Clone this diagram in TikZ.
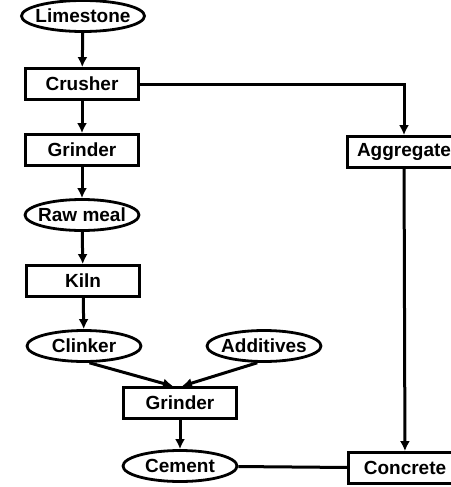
\documentclass[tikz,border=0pt]{standalone}
\usepackage{fontspec}
\setmainfont{Liberation Sans}
\usepackage{tikz}
\usetikzlibrary{arrows.meta, positioning, shapes.geometric, calc}

\tikzset{
    stagebox/.style={draw, line width=2.8pt, minimum width=113pt, minimum height=31pt, inner sep=2pt, font=\fontsize{19}{21}\selectfont\bfseries},
    matter/.style={draw, ellipse, line width=2.8pt, minimum width=114pt, minimum height=31pt, inner xsep=-4pt, inner ysep=1pt, font=\fontsize{19}{21}\selectfont\bfseries},
    flow/.style={-{Latex[length=10pt, width=10pt]}, line width=3pt},
    link/.style={line width=3pt}
}

\begin{document}
\begin{tikzpicture}[x=1pt, y=-1pt]
        \useasboundingbox (0,0) rectangle (450,487);

        % Cement line
        \node[matter] (lime) at (83,16) {Limestone};
        \node[stagebox] (crush) at (82,84) {Crusher};
        \node[stagebox] (grind) at (82,150) {Grinder};
        \node[matter] (raw) at (82,215) {Raw meal};
        \node[stagebox] (kiln) at (83,281) {Kiln};
        \node[matter] (clink) at (84,346) {Clinker};
        \node[matter] (addit) at (264,346) {Additives};
        \node[stagebox] (grindb) at (180,403) {Grinder};
        \node[matter] (cem) at (180,466) {Cement};

        % Aggregate side
        \node[stagebox] (aggr) at (404,152) {Aggregate};
        \node[stagebox] (concr) at (405,468) {Concrete};

        \draw[flow] (lime) -- (crush);
        \draw[flow] (crush) -- (grind);
        \draw[flow] (grind) -- (raw);
        \draw[flow] (raw) -- (kiln);
        \draw[flow] (kiln) -- (clink);
        \draw[flow] (clink.-72) -- ([xshift=-7pt]grindb.north);
        \draw[flow] (addit.-112) -- ([xshift=2pt]grindb.north);
        \draw[flow] (grindb) -- (cem);

        \draw[flow] (crush.east) -| (aggr.north);
        \draw[flow] (aggr) -- (concr);
        \draw[link] (cem) -- (concr);
    \end{tikzpicture}
\end{document}
